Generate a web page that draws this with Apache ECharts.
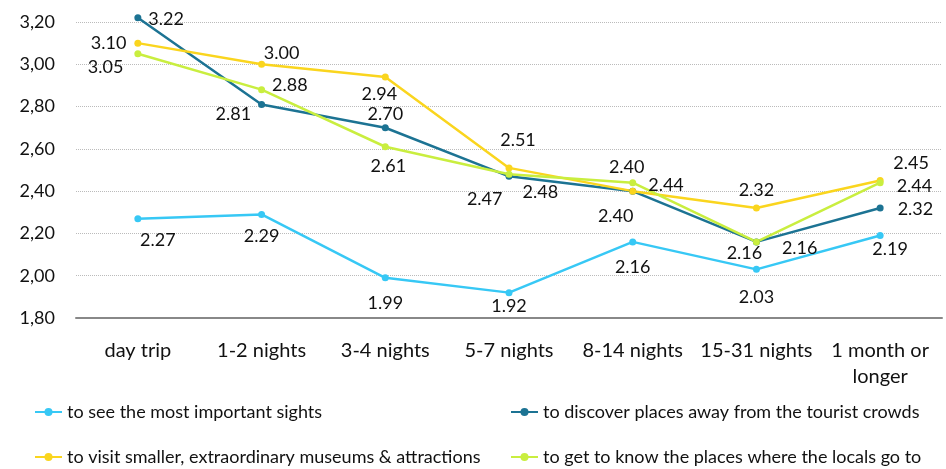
<!DOCTYPE html>
<html><head><meta charset="utf-8">
<script src="https://cdn.jsdelivr.net/npm/echarts@6/dist/echarts.min.js"></script>
<style>html,body{margin:0;padding:0;background:#fff}#c{width:946px;height:469px}</style>
</head><body><div id="c"></div>
<script>
const categories = ['day trip','1-2 nights','3-4 nights','5-7 nights','8-14 nights','15-31 nights','1 month or\nlonger'];
const seriesNames = ['to see the most important sights','to discover places away from the tourist crowds','to visit smaller, extraordinary museums & attractions','to get to know the places where the locals go to'];
const sights   = [2.27, 2.29, 1.99, 1.92, 2.16, 2.03, 2.19];
const discover = [3.22, 2.81, 2.70, 2.47, 2.40, 2.16, 2.32];
const museums  = [3.10, 3.00, 2.94, 2.51, 2.40, 2.32, 2.45];
const locals   = [3.05, 2.88, 2.61, 2.48, 2.44, 2.16, 2.44];
const yMin = 1.8, yMax = 3.2, yStep = 0.2;

// label layout (styling only)
const L = {
  sights:   [['bottom',[20,4]],['bottom',[0,4]],['bottom',[0,8]],['bottom',[0,-4]],['bottom',[0,8]],['bottom',[0,10]],['bottom',[10,-4]]],
  discover: [['right',[2,1]],['left',[-2,10]],['top',[0,4]],['left',[2,23]],['bottom',[-17,8]],['bottom',[-12,-6]],['right',[9,1]]],
  museums:  [['left',[-3,0]],['top',[20,6]],['bottom',[-6,0]],['top',[9,-10]],['top',[-6,-6]],['top',[0,0]],['top',[31,0]]],
  locals:   [['left',[-6,13]],['right',[2,-4]],['bottom',[3,2]],['right',[5,18]],['right',[7,3]],['right',[17,6]],['right',[8,4]]]
};
function build(vals, lay){
  return vals.map((v,i)=>({value:v,label:{position:lay[i][0],offset:lay[i][1]}}));
}
const colors = ['#37c8f5','#1c7393','#fad51e','#c9ee3f'];
const FONT = 'Lato';
function mk(name, vals, lay, color){
  return {
    name, type:'line', data: build(vals, lay), clip:false,
    symbol:'circle', symbolSize:7,
    lineStyle:{width:2.5,color}, itemStyle:{color},
    label:{show:true,color:'#111',fontSize:18,fontFamily:FONT,formatter:p=>p.value.toFixed(2)},
    z: 3
  };
}
const chart = echarts.init(document.getElementById('c'));
const legendText = {fontSize:18,fontFamily:FONT,color:'#111'};
function leg(name, left, top){
  return {data:[name],left,top,padding:0,itemWidth:27,itemHeight:10,itemGap:0,textStyle:legendText};
}
chart.setOption({
  animation:false,
  color: colors,
  grid:{left:76,right:4,top:22,bottom:151},
  legend:[
    leg(seriesNames[0],34,403),
    leg(seriesNames[1],510,403),
    leg(seriesNames[2],34,448),
    leg(seriesNames[3],510,448)
  ],
  xAxis:{type:'category',data:categories,boundaryGap:true,
    axisLine:{lineStyle:{color:'#888',width:2}},axisTick:{show:false},
    axisLabel:{fontSize:20,fontFamily:FONT,color:'#111',margin:20,lineHeight:26,interval:0}},
  yAxis:{type:'value',min:yMin,max:yMax,interval:yStep,
    axisLine:{show:false},axisTick:{show:false},
    axisLabel:{fontSize:18,fontFamily:FONT,color:'#111',margin:21,formatter:v=>v.toFixed(2).replace('.',',')},
    splitLine:{lineStyle:{color:'#bbb',type:'dotted',width:1}}},
  series:[
    mk(seriesNames[0], sights, L.sights, colors[0]),
    mk(seriesNames[1], discover, L.discover, colors[1]),
    mk(seriesNames[2], museums, L.museums, colors[2]),
    mk(seriesNames[3], locals, L.locals, colors[3])
  ]
});
</script></body></html>
